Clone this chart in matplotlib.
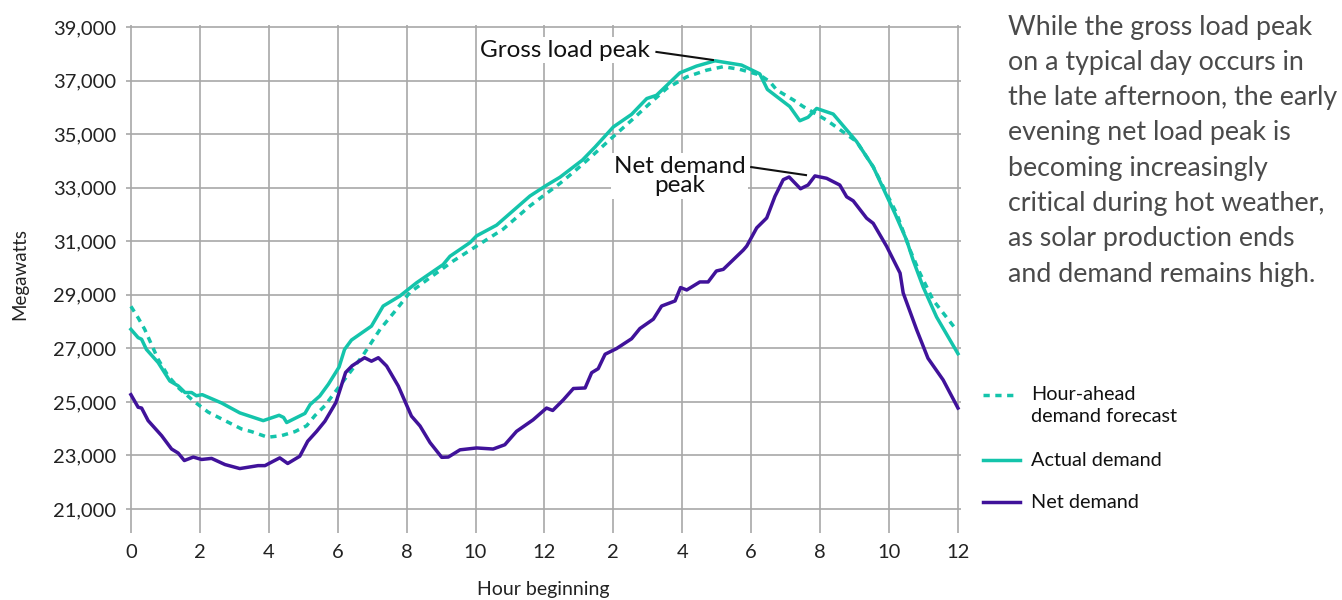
import matplotlib
matplotlib.use("Agg")
import matplotlib.pyplot as plt
from matplotlib.lines import Line2D

FONT = ["Lato", "DejaVu Sans"]
plt.rcParams["font.family"] = FONT

# ---------------- data ----------------
actual_h = [0.0, 0.21, 0.31, 0.45, 0.79, 1.13, 1.37, 1.57, 1.76, 1.9, 2.07, 2.63, 3.16, 3.84,
            4.3, 4.43, 4.52, 5.05, 5.2, 5.48, 5.73, 6.04, 6.2, 6.4, 6.98, 7.32, 7.8, 8.29, 9.06,
            9.26, 9.84, 10.03, 10.61, 11.58, 12.06, 12.45, 13.1, 13.47, 14.0, 14.53, 14.97,
            15.25, 15.93, 16.41, 16.95, 17.72, 18.25, 18.47, 19.12, 19.41, 19.65, 19.9, 20.38,
            21.06, 21.54, 22.17, 22.51, 22.7, 22.99, 23.38, 24.0]
actual_mw = [27710, 27400, 27340, 26960, 26470, 25780, 25600, 25350, 25350, 25230, 25270, 24960,
             24590, 24300, 24500, 24420, 24230, 24570, 24900, 25220, 25660, 26300, 26960, 27310,
             27830, 28580, 28950, 29450, 30130, 30440, 30950, 31200, 31600, 32690, 33090, 33390,
             34030, 34520, 35270, 35740, 36330, 36450, 37290, 37540, 37740, 37580, 37250, 36670,
             36030, 35500, 35630, 35960, 35750, 34720, 33780, 32040, 31040, 30290, 29290, 28170,
             26800]

forecast_h = [0.0, 0.21, 0.4, 0.79, 1.08, 1.4, 1.86, 2.24, 2.73, 3.21, 3.5, 3.97, 4.37, 4.76,
              5.1, 5.34, 5.63, 5.92, 6.26, 6.74, 7.23, 7.71, 8.09, 8.68, 9.35, 10.03, 10.8,
              11.58, 11.96, 12.45, 12.88, 13.41, 13.99, 14.53, 15.06, 15.55, 16.13, 16.71,
              17.19, 17.67, 18.25, 18.54, 18.74, 19.22, 19.51, 20.19, 20.53, 21.06, 21.54,
              22.22, 22.61, 22.9, 23.28, 23.96]
forecast_mw = [28570, 28140, 27710, 26590, 25970, 25500, 24990, 24620, 24300, 23990, 23890, 23680,
               23740, 23890, 24110, 24490, 24860, 25360, 25940, 26750, 27710, 28460, 29080, 29640,
               30260, 30820, 31450, 32320, 32690, 33160, 33620, 34220, 34900, 35520, 36150, 36710,
               37140, 37390, 37520, 37420, 37210, 36960, 36650, 36280, 36030, 35520, 35210, 34720,
               33780, 32040, 30670, 29800, 28800, 27680]

net_h = [0.0, 0.21, 0.31, 0.5, 0.89, 1.18, 1.37, 1.55, 1.81, 2.05, 2.34, 2.73, 3.16, 3.69, 3.89,
         4.08, 4.32, 4.55, 4.9, 5.13, 5.39, 5.63, 5.95, 6.23, 6.42, 6.78, 6.98, 7.18, 7.42, 7.76,
         8.14, 8.39, 8.68, 9.02, 9.21, 9.55, 10.03, 10.51, 10.85, 11.19, 11.67, 12.06, 12.24,
         12.55, 12.84, 13.18, 13.37, 13.56, 13.76, 14.09, 14.53, 14.77, 15.16, 15.4, 15.79,
         15.95, 16.13, 16.51, 16.75, 16.99, 17.19, 17.77, 17.87, 18.16, 18.45, 18.69, 18.93,
         19.1, 19.43, 19.65, 19.85, 20.19, 20.57, 20.77, 20.96, 21.35, 21.54, 21.93, 22.32,
         22.41, 22.8, 23.13, 23.57, 24.0]
net_mw = [25270, 24800, 24770, 24300, 23740, 23240, 23090, 22810, 22940, 22850, 22890, 22660,
          22510, 22620, 22620, 22750, 22910, 22700, 22970, 23530, 23900, 24280, 24980, 26100,
          26350, 26650, 26520, 26650, 26340, 25590, 24470, 24100, 23480, 22930, 22940, 23210,
          23280, 23240, 23400, 23900, 24330, 24770, 24680, 25080, 25500, 25520, 26090, 26240,
          26780, 26990, 27360, 27740, 28090, 28580, 28770, 29270, 29180, 29480, 29480, 29890,
          29950, 30670, 30820, 31500, 31870, 32680, 33300, 33400, 32960, 33100, 33440, 33350,
          33100, 32660, 32510, 31860, 31670, 30810, 29810, 29070, 27700, 26630, 25820, 24770]

x_ticks = list(range(0, 25, 2))
x_tick_labels = ["0", "2", "4", "6", "8", "10", "12", "2", "4", "6", "8", "10", "12"]
y_ticks = list(range(21000, 39001, 2000))

series_labels = ["Hour-ahead\ndemand forecast", "Actual demand", "Net demand"]

side_text = ["While the gross load peak",
             "on a typical day occurs in",
             "the late afternoon, the early",
             "evening net load peak is",
             "becoming increasingly",
             "critical during hot weather,",
             "as solar production ends",
             "and demand remains high."]

# ---------------- styles ----------------
TEAL = "#14c4ab"
PURPLE = "#40129a"
GRID = "#a8a8a8"
LW = 2.5

fig = plt.figure(figsize=(13.42, 6.0), dpi=100)
ax = fig.add_axes([0.0937, 0.1115, 0.6227, 0.847])

ax.plot(forecast_h, forecast_mw, color=TEAL, lw=LW, ls=(0, (1.8, 1.6)), zorder=3)
ax.plot(actual_h, actual_mw, color=TEAL, lw=LW, zorder=4, solid_joinstyle="round")
ax.plot(net_h, net_mw, color=PURPLE, lw=LW, zorder=4, solid_joinstyle="round")

ax.set_xlim(-0.15, 24.1)
ax.set_ylim(20100, 39080)
ax.set_xticks(x_ticks)
ax.set_xticklabels(x_tick_labels)
ax.set_yticks(y_ticks)
ax.set_yticklabels([f"{v:,}" for v in y_ticks])
ax.tick_params(length=0, labelsize=14.5, colors="#222222")
ax.tick_params(axis="y", pad=7)
ax.tick_params(axis="x", pad=8)
for s in ax.spines.values():
    s.set_visible(False)
ax.grid(True, color=GRID, lw=1.2, zorder=0)
ax.set_axisbelow(True)

ax.set_ylabel("Megawatts", fontsize=13.5, color="#222222")
ax.yaxis.set_label_coords(-0.117, 0.51)
ax.set_xlabel("Hour beginning", fontsize=14, color="#222222", labelpad=14)

# annotations
bbox = dict(fc="white", ec="none", pad=2)
ax.text(12.6, 38140, "Gross load peak", ha="center", va="center", fontsize=17.5,
        color="#111111", bbox=bbox, zorder=5)
ax.plot([15.25, 16.89], [38070, 37770], color="#111111", lw=1.5, zorder=6)
ax.text(15.92, 33440, "Net demand\npeak", ha="center", va="center", fontsize=17.5,
        color="#111111", bbox=bbox, linespacing=0.92, zorder=5)
ax.plot([18.0, 19.59], [33770, 33470], color="#111111", lw=1.5, zorder=6)

# legend (manual)
fig.add_artist(Line2D([983 / 1342, 1018 / 1342], [1 - 395 / 600] * 2, color=TEAL, lw=LW,
                      ls=(0, (1.8, 1.6)), transform=fig.transFigure))
fig.add_artist(Line2D([983 / 1342, 1020 / 1342], [1 - 460 / 600] * 2, color=TEAL, lw=LW,
                      transform=fig.transFigure))
fig.add_artist(Line2D([983 / 1342, 1020 / 1342], [1 - 502 / 600] * 2, color=PURPLE, lw=LW,
                      transform=fig.transFigure))
lx = 1031 / 1342
l1a, l1b = series_labels[0].split("\n")
fig.text(lx, 1 - 395 / 600, l1a, fontsize=14.3, va="center", color="#111111")
fig.text(lx, 1 - 417 / 600, l1b, fontsize=14.3, va="center", color="#111111")
fig.text(lx, 1 - 460 / 600, series_labels[1], fontsize=14.3, va="center", color="#111111")
fig.text(lx, 1 - 502 / 600, series_labels[2], fontsize=14.3, va="center", color="#111111")

# side text
for i, line in enumerate(side_text):
    fig.text(1008 / 1342, 1 - (27 + i * 35.3) / 600, line, fontsize=19.3, va="center",
             color="#4a4a4a")

fig.savefig("out.png", dpi=100)
